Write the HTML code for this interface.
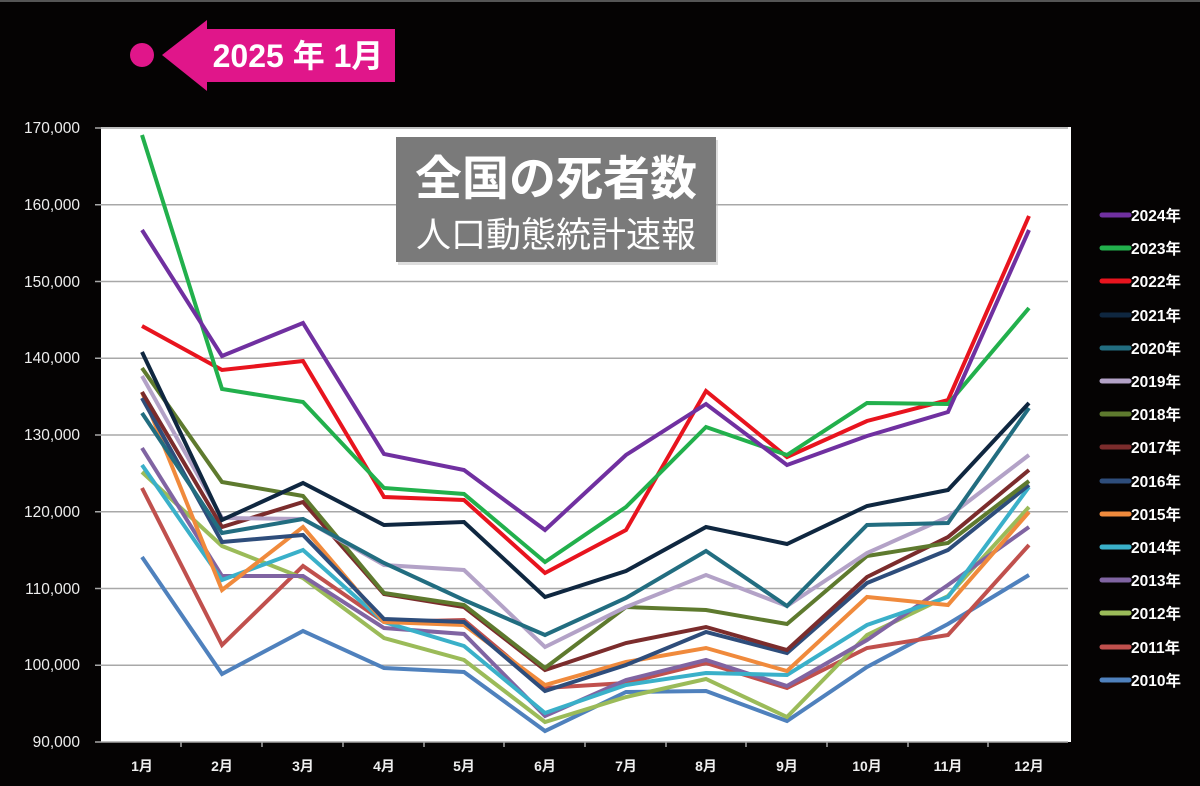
<!DOCTYPE html>
<html><head><meta charset="utf-8"><style>
body{margin:0;background:#050303;width:1200px;height:786px;overflow:hidden}
svg{display:block}
</style></head><body>
<svg width="1200" height="786" xmlns="http://www.w3.org/2000/svg" font-family="'Liberation Sans','Noto Sans CJK JP',sans-serif">
<rect width="1200" height="786" fill="#050303"/>
<rect x="0" y="0" width="1200" height="2" fill="#555"/>
<circle cx="142" cy="55" r="12" fill="#e0168a"/>
<polygon points="162,55 207,20 207,29 395,29 395,82 207,82 207,91" fill="#e0168a"/>
<text x="298" y="67" fill="#fff" font-size="32" font-weight="bold" text-anchor="middle">2025 年 1月</text>
<rect x="101" y="127" width="970" height="615" fill="#fff"/>
<g stroke="#a8a8a8" stroke-width="1.5">
<line x1="101" x2="1068" y1="128" y2="128"/><line x1="101" x2="1068" y1="204.75" y2="204.75"/>
<line x1="101" x2="1068" y1="281.5" y2="281.5"/><line x1="101" x2="1068" y1="358.25" y2="358.25"/>
<line x1="101" x2="1068" y1="435" y2="435"/><line x1="101" x2="1068" y1="511.75" y2="511.75"/>
<line x1="101" x2="1068" y1="588.5" y2="588.5"/><line x1="101" x2="1068" y1="665.25" y2="665.25"/>
<line x1="101" x2="1068" y1="742" y2="742"/>
</g>
<g stroke="#a8a8a8" stroke-width="1.5">
<line x1="95" x2="101" y1="128" y2="128"/><line x1="95" x2="101" y1="204.75" y2="204.75"/><line x1="95" x2="101" y1="281.5" y2="281.5"/><line x1="95" x2="101" y1="358.25" y2="358.25"/><line x1="95" x2="101" y1="435" y2="435"/><line x1="95" x2="101" y1="511.75" y2="511.75"/><line x1="95" x2="101" y1="588.5" y2="588.5"/><line x1="95" x2="101" y1="665.25" y2="665.25"/><line x1="95" x2="101" y1="742" y2="742"/>
<line x1="181" x2="181" y1="742" y2="747"/><line x1="262" x2="262" y1="742" y2="747"/><line x1="343" x2="343" y1="742" y2="747"/><line x1="424" x2="424" y1="742" y2="747"/><line x1="504" x2="504" y1="742" y2="747"/><line x1="585" x2="585" y1="742" y2="747"/><line x1="666" x2="666" y1="742" y2="747"/><line x1="746" x2="746" y1="742" y2="747"/><line x1="827" x2="827" y1="742" y2="747"/><line x1="908" x2="908" y1="742" y2="747"/><line x1="988" x2="988" y1="742" y2="747"/>
</g>
<g fill="#eee" font-size="15.5" text-anchor="end">
<text x="80" y="133">170,000</text><text x="80" y="210">160,000</text><text x="80" y="287">150,000</text><text x="80" y="363">140,000</text><text x="80" y="440">130,000</text><text x="80" y="517">120,000</text><text x="80" y="594">110,000</text><text x="80" y="670">100,000</text><text x="80" y="747">90,000</text>
</g>
<g fill="#eee" font-size="14" font-weight="bold" text-anchor="middle">
<text x="142" y="771">1月</text><text x="222" y="771">2月</text><text x="303" y="771">3月</text><text x="384" y="771">4月</text><text x="464" y="771">5月</text><text x="545" y="771">6月</text><text x="626" y="771">7月</text><text x="706" y="771">8月</text><text x="787" y="771">9月</text><text x="867" y="771">10月</text><text x="948" y="771">11月</text><text x="1029" y="771">12月</text>
</g>
<g fill="none" stroke-width="4" stroke-linejoin="miter">
<polyline stroke="#4f81bd" points="142,557 222,674 303,631 384,668 464,672 545,731 626,692 706,691 787,721 867,667 948,624 1029,575"/>
<polyline stroke="#c0504d" points="142,488 222,645 303,566 384,622 464,620 545,688 626,683 706,663 787,688 867,648 948,635 1029,545"/>
<polyline stroke="#9bbb59" points="142,472 222,546 303,578 384,638 464,660 545,722 626,697 706,679 787,717 867,635 948,596 1029,507"/>
<polyline stroke="#8064a2" points="142,448 222,576 303,576 384,628 464,634 545,716 626,680 706,660 787,686 867,640 948,585 1029,527"/>
<polyline stroke="#3ab0c9" points="142,465 222,580 303,550 384,622 464,646 545,713 626,685 706,673 787,675 867,625 948,597 1029,487"/>
<polyline stroke="#f08a3c" points="142,392 222,590 303,527 384,622 464,625 545,685 626,662 706,648 787,671 867,597 948,605 1029,512"/>
<polyline stroke="#2e4d7b" points="142,398 222,542 303,535 384,619 464,622 545,691 626,665 706,632 787,653 867,583 948,550 1029,485"/>
<polyline stroke="#7b2c2c" points="142,392 222,527 303,502 384,594 464,607 545,670 626,643 706,627 787,650 867,577 948,537 1029,470"/>
<polyline stroke="#5e7a2e" points="142,368 222,482 303,496 384,593 464,605 545,668 626,607 706,610 787,624 867,556 948,543 1029,481"/>
<polyline stroke="#b3a2c7" points="142,376 222,518 303,519 384,565 464,570 545,647 626,607 706,575 787,606 867,553 948,517 1029,455"/>
<polyline stroke="#226d80" points="142,413 222,533 303,519 384,563 464,600 545,635 626,598 706,551 787,606 867,525 948,523 1029,408"/>
<polyline stroke="#0f2740" points="142,352 222,520 303,483 384,525 464,522 545,597 626,571 706,527 787,544 867,506 948,490 1029,403"/>
<polyline stroke="#e8141e" points="142,326 222,370 303,361 384,497 464,500 545,573 626,530 706,391 787,457 867,421 948,400 1029,216"/>
<polyline stroke="#22b04c" points="142,135 222,389 303,402 384,488 464,494 545,562 626,507 706,427 787,455 867,403 948,404 1029,308"/>
<polyline stroke="#7030a0" points="142,230 222,356 303,323 384,454 464,470 545,530 626,455 706,404 787,465 867,436 948,412 1029,230"/>
</g>
<rect x="398" y="140" width="320" height="125" fill="#bbb" opacity="0.5"/>
<rect x="396" y="137" width="320" height="125" fill="#7a7a7a"/>
<text x="556" y="195" fill="#fff" font-size="47" font-weight="bold" text-anchor="middle">全国の死者数</text>
<text x="556" y="247" fill="#fff" font-size="35" text-anchor="middle">人口動態統計速報</text>
<g stroke-width="5" stroke-linecap="round">
<line x1="1102" x2="1129" y1="215" y2="215" stroke="#7030a0"/>
<line x1="1102" x2="1129" y1="248" y2="248" stroke="#22b04c"/>
<line x1="1102" x2="1129" y1="281" y2="281" stroke="#e8141e"/>
<line x1="1102" x2="1129" y1="315" y2="315" stroke="#0f2740"/>
<line x1="1102" x2="1129" y1="348" y2="348" stroke="#226d80"/>
<line x1="1102" x2="1129" y1="381" y2="381" stroke="#b3a2c7"/>
<line x1="1102" x2="1129" y1="414" y2="414" stroke="#5e7a2e"/>
<line x1="1102" x2="1129" y1="447" y2="447" stroke="#7b2c2c"/>
<line x1="1102" x2="1129" y1="481" y2="481" stroke="#2e4d7b"/>
<line x1="1102" x2="1129" y1="514" y2="514" stroke="#f08a3c"/>
<line x1="1102" x2="1129" y1="547" y2="547" stroke="#3ab0c9"/>
<line x1="1102" x2="1129" y1="580" y2="580" stroke="#8064a2"/>
<line x1="1102" x2="1129" y1="613" y2="613" stroke="#9bbb59"/>
<line x1="1102" x2="1129" y1="647" y2="647" stroke="#c0504d"/>
<line x1="1102" x2="1129" y1="680" y2="680" stroke="#4f81bd"/>
</g>
<g fill="#fff" font-size="15.5" font-weight="bold">
<text x="1131" y="221">2024年</text><text x="1131" y="254">2023年</text><text x="1131" y="287">2022年</text><text x="1131" y="321">2021年</text><text x="1131" y="354">2020年</text><text x="1131" y="387">2019年</text><text x="1131" y="420">2018年</text><text x="1131" y="453">2017年</text><text x="1131" y="487">2016年</text><text x="1131" y="520">2015年</text><text x="1131" y="553">2014年</text><text x="1131" y="586">2013年</text><text x="1131" y="619">2012年</text><text x="1131" y="653">2011年</text><text x="1131" y="686">2010年</text>
</g>
</svg>
</body></html>
